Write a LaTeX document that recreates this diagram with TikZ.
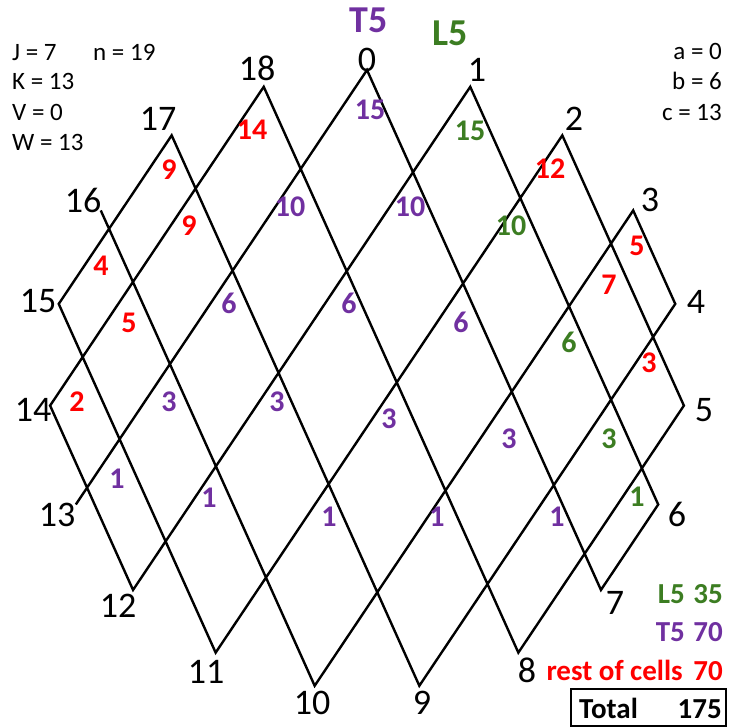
\documentclass[tikz,border=0pt]{standalone}
\usepackage{fontspec}
\setmainfont{Carlito}
\definecolor{pur}{RGB}{112,48,160}
\definecolor{grn}{RGB}{60,125,34}
\definecolor{rd}{RGB}{255,0,0}
\begin{document}
\begin{tikzpicture}[x=1pt,y=-1pt,
  vlab/.style={font=\fontsize{36}{36}\selectfont, inner sep=0pt, text height=22.7pt, text depth=0pt},
  num/.style={font=\fontsize{30}{30}\selectfont\bfseries, inner sep=0pt, text height=19pt, text depth=0pt},
  info/.style={font=\fontsize{25}{25}\selectfont, inner sep=0pt, text height=16pt, text depth=0pt},
  leg/.style={font=\fontsize{29}{29}\selectfont\bfseries, inner sep=0pt, text height=18.7pt, text depth=0pt},
  head/.style={font=\fontsize{38}{38}\selectfont\bfseries, inner sep=0pt, text height=24.5pt, text depth=0pt},
  chord/.style={line width=2.4pt, line join=miter, black}]
\useasboundingbox (0,0) rectangle (739,728);
\foreach \k in {0,...,18}
  \coordinate (v\k) at ({367+318*cos(90-\k*360/19)},{380-310*sin(90-\k*360/19)});
\draw[chord] (v16)--(v10)--(v3)--(v4)--(v9)--(v17)--(v15)--(v11)--(v2)--(v5)--(v8)--(v18)--(v14)--(v12)--(v1)--(v6)--(v7)--(v0)--(v13);
% vertex labels
\node[vlab] (l0) at (367,60) {0};
\node[vlab] (l1) at (477,70) {1};
\node[vlab] (l2) at (574,119) {2};
\node[vlab] (l3) at (650,200) {3};
\node[vlab] (l4) at (696,302) {4};
\node[vlab] (l5) at (704,410) {5};
\node[vlab] (l6) at (677,515) {6};
\node[vlab] (l7) at (615,603) {7};
\node[vlab] (l8) at (527,671) {8};
\node[vlab] (l9) at (422,703) {9};
\node[vlab] (l10) at (312,703) {10};
\node[vlab] (l11) at (206,672) {11};
\node[vlab] (l12) at (118,606) {12};
\node[vlab] (l13) at (57,515) {13};
\node[vlab] (l14) at (33,410) {14};
\node[vlab] (l15) at (38,301) {15};
\node[vlab] (l16) at (83,201) {16};
\node[vlab] (l17) at (158,119) {17};
\node[vlab] (l18) at (257,69) {18};
% headers
\node[head, text=pur] (hT) at (369,20) {T5};
\node[head, text=grn] (hL) at (450,33) {L5};
% purple numbers
\node[num, text=pur] (p1) at (370,110) {15};
\node[num, text=pur] (p2) at (290,207) {10};
\node[num, text=pur] (p3) at (410,207) {10};
\node[num, text=pur] (p4) at (229,304) {6};
\node[num, text=pur] (p5) at (349,304) {6};
\node[num, text=pur] (p6) at (461,323) {6};
\node[num, text=pur] (p7) at (169,402) {3};
\node[num, text=pur] (p8) at (277,402) {3};
\node[num, text=pur] (p9) at (389,419) {3};
\node[num, text=pur] (p10) at (509,439) {3};
\node[num, text=pur] (p11) at (117,479) {1};
\node[num, text=pur] (p12) at (209,498) {1};
\node[num, text=pur] (p13) at (329,517) {1};
\node[num, text=pur] (p14) at (437,517) {1};
\node[num, text=pur] (p15) at (557,517) {1};
% green numbers
\node[num, text=grn] (g1) at (470,131) {15};
\node[num, text=grn] (g2) at (511,226) {10};
\node[num, text=grn] (g3) at (569,343) {6};
\node[num, text=grn] (g4) at (609,439) {3};
\node[num, text=grn] (g5) at (637,497) {1};
% red numbers
\node[num, text=rd] (r1) at (252,130) {14};
\node[num, text=rd] (r2) at (550,169) {12};
\node[num, text=rd] (r3) at (169,170) {9};
\node[num, text=rd] (r4) at (189,226) {9};
\node[num, text=rd] (r5) at (637,246) {5};
\node[num, text=rd] (r6) at (609,285) {7};
\node[num, text=rd] (r7) at (101,266) {4};
\node[num, text=rd] (r8) at (129,323) {5};
\node[num, text=rd] (r9) at (649,363) {3};
\node[num, text=rd] (r10) at (77,402) {2};
% info top-left
\node[info, anchor=west] (iJ) at (12,52) {J = 7};
\node[info, anchor=west] (in) at (93,52) {n = 19};
\node[info, anchor=west] (iK) at (12,81) {K = 13};
\node[info, anchor=west] (iV) at (12,112) {V = 0};
\node[info, anchor=west] (iW) at (12,142) {W = 13};
% info top-right
\node[info, anchor=east] (ia) at (722,51) {a = 0};
\node[info, anchor=east] (ib) at (722,81) {b = 6};
\node[info, anchor=east] (ic) at (722,112) {c = 13};
% legend
\node[leg, text=grn, anchor=east] (lgL) at (685,594) {L5};
\node[leg, text=grn, anchor=east] (lgLv) at (723,594) {35};
\node[leg, text=pur, anchor=east] (lgT) at (685,632) {T5};
\node[leg, text=pur, anchor=east] (lgTv) at (723,632) {70};
\node[leg, text=rd, anchor=east] (lgR) at (683,671) {rest of cells};
\node[leg, text=rd, anchor=east] (lgRv) at (723,671) {70};
\draw[line width=2.6pt] (571,689) rectangle (726,726);
\node[leg, anchor=west] (tot) at (579,709) {Total};
\node[leg, anchor=east] (totv) at (722,709) {175};
\end{tikzpicture}
\end{document}
